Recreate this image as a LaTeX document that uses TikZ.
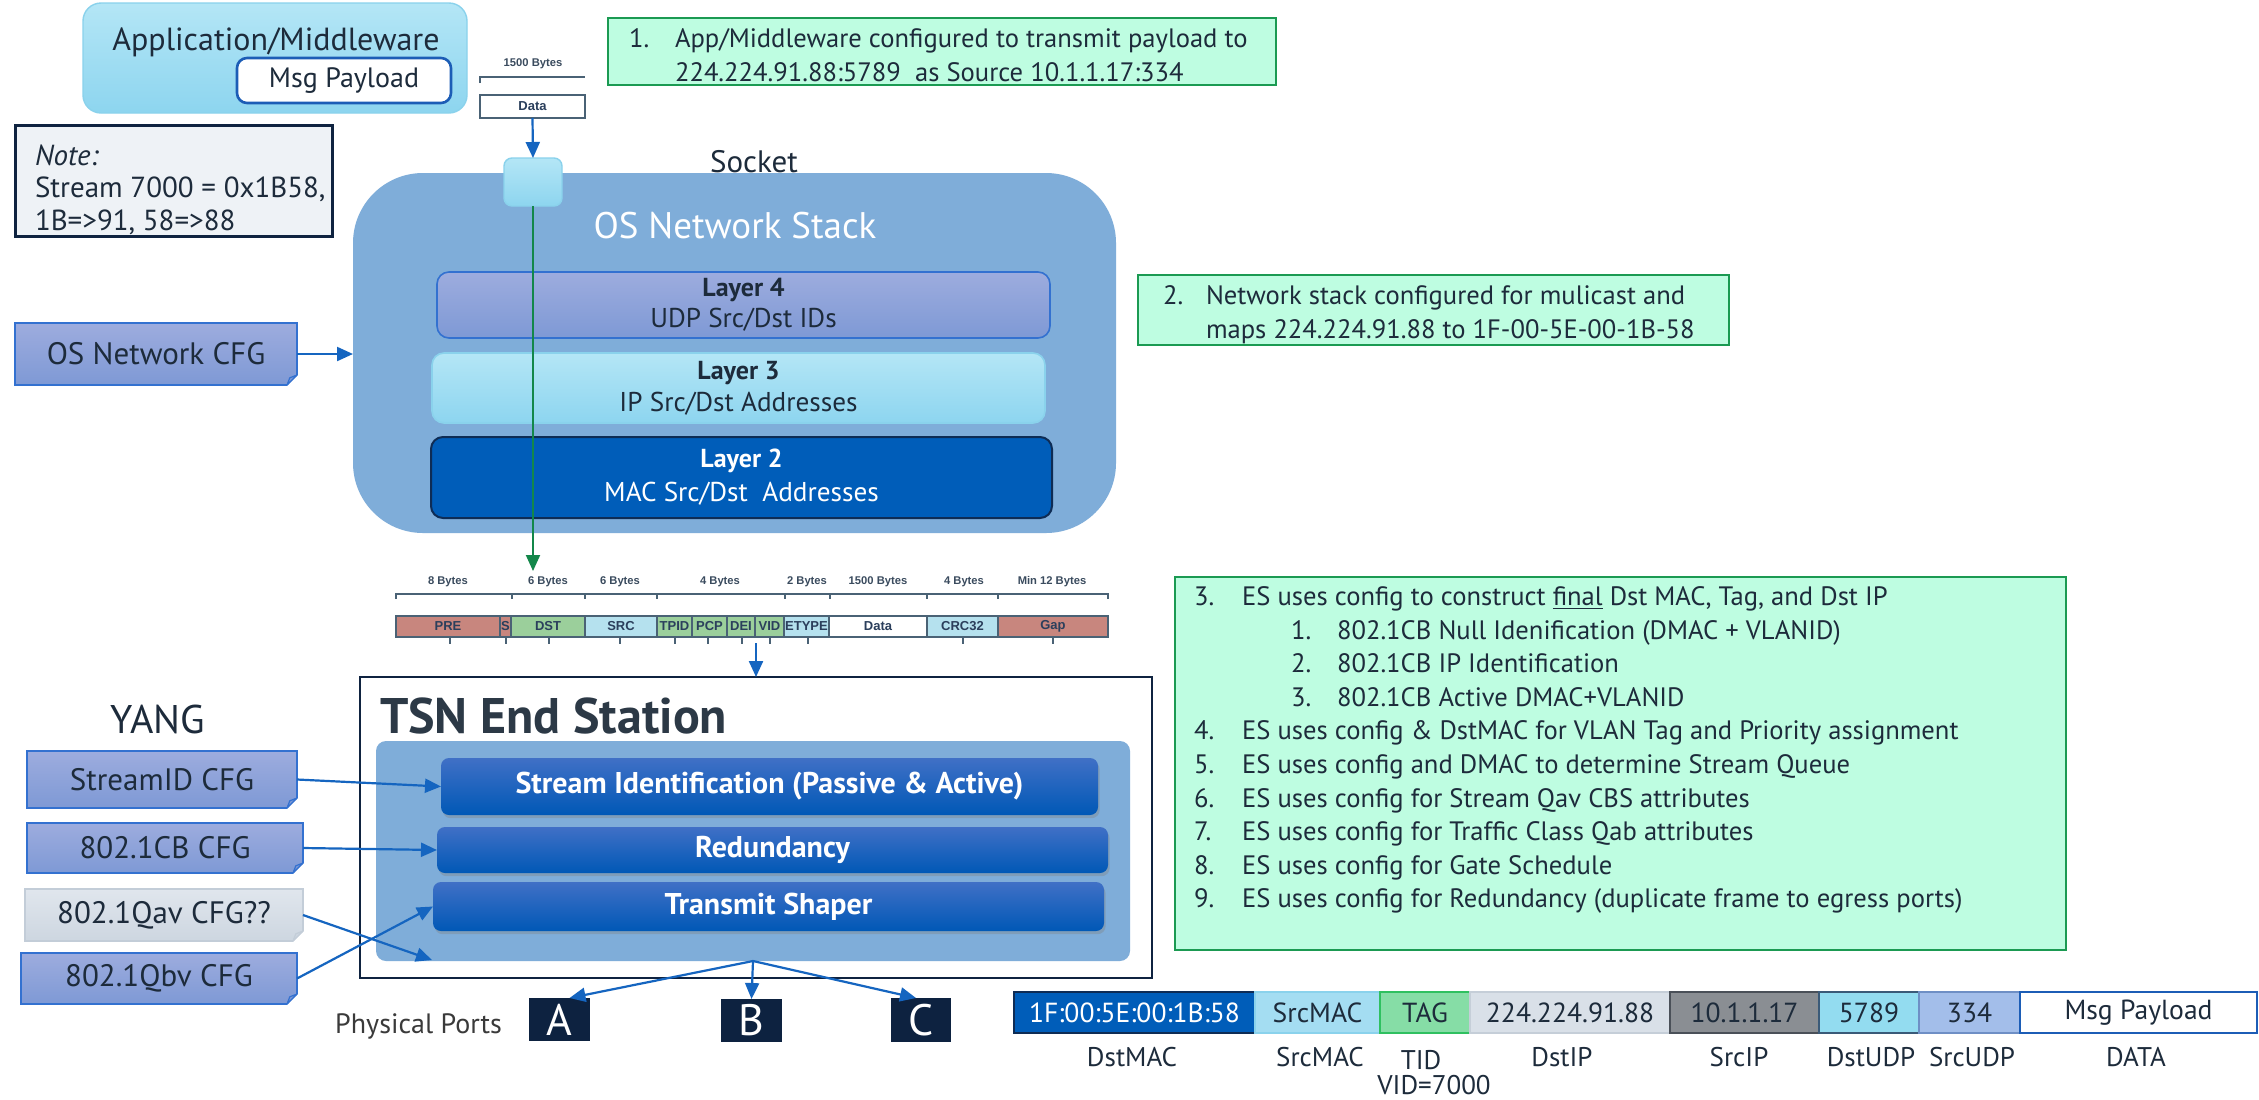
\documentclass[tikz,border=0pt]{standalone}
\usepackage{fontspec}
\setmainfont{PT Sans}
\newfontfamily\framefont{Liberation Sans}
\usetikzlibrary{arrows.meta,shadows}
\newcommand\fsz[1]{\fontsize{#1}{#1}\selectfont}

\definecolor{txt}{HTML}{1D2B3B}
\definecolor{appT}{HTML}{B4E6F6}
\definecolor{appB}{HTML}{8DD5EF}
\definecolor{appL}{HTML}{8AD2EC}
\definecolor{msgB}{HTML}{1C5DB6}
\definecolor{frmT}{HTML}{3A4B5E}
\definecolor{frmB}{HTML}{4A6275}
\definecolor{fldT}{HTML}{2B3F5C}
\definecolor{noteF}{HTML}{EEF2F6}
\definecolor{noteB}{HTML}{0F2340}
\definecolor{stackF}{HTML}{7FADD9}
\definecolor{lfT}{HTML}{9DACDE}
\definecolor{lfB}{HTML}{7E99D5}
\definecolor{lfL}{HTML}{3371D0}
\definecolor{ltwoF}{HTML}{005DB9}
\definecolor{ltwoL}{HTML}{0E2C55}
\definecolor{gnF}{HTML}{BEFDE1}
\definecolor{gnL}{HTML}{1B9A52}
\definecolor{gln}{HTML}{13874A}
\definecolor{arrB}{HTML}{1565C0}
\definecolor{tsnT}{HTML}{2C3946}
\definecolor{blkT}{HTML}{4070C6}
\definecolor{blkB}{HTML}{0058B6}
\definecolor{portF}{HTML}{0D2240}
\definecolor{salm}{HTML}{C8867E}
\definecolor{grn}{HTML}{9BCF9B}
\definecolor{lblu}{HTML}{B5E1EE}
\definecolor{qavT}{HTML}{E0E6ED}
\definecolor{qavB}{HTML}{CDD6E0}
\definecolor{qavL}{HTML}{C3CDD8}
\definecolor{grayT}{HTML}{3A3A3A}

\tikzset{
  pxbox/.style args={#1/#2/#3/#4}{at={({(#1+#3)/2},{(#2+#4)/2})},
    minimum width={(#3-#1)*0.5pt}, minimum height={(#4-#2)*0.5pt}},
  framelab/.style={font=\framefont\bfseries\fsz{5.6}, text=frmT},
  field/.style={draw=frmB, line width=0.6pt, font=\framefont\bfseries\fsz{6.5}, text=fldT},
  frmline/.style={draw=frmB, line width=0.6pt},
  barrow/.style={draw=arrB, line width=1.1pt, -{Triangle[length=8pt,width=7pt]}},
  garrow/.style={draw=gln, line width=1pt, -{Triangle[length=8pt,width=7pt]}},
  greennote/.style={fill=gnF, draw=gnL, line width=1pt},
  notetext/.style={anchor=base west, font=\fsz{13.3}, text=txt},
  layer/.style={rounded corners=6pt, align=center, font=\fsz{13.6}, text=txt},
  cfgbox/.style={top color=lfT, bottom color=lfB, draw=lfL, line width=0.8pt, font=\fsz{15.5}, text=txt},
  blk/.style={rounded corners=4pt, top color=blkT, bottom color=blkB,
    drop shadow={shadow xshift=0.8pt, shadow yshift=-1.6pt, opacity=0.35},
    text=white, font=\bfseries\fsz{15}},
  port/.style={fill=portF, text=white, font=\fsz{22}},
  barfield/.style={line width=0.8pt, font=\fsz{13.8}, text=txt},
  barlab/.style={anchor=base, font=\fsz{13.5}, text=txt},
}

% folded corner at the lower right of a configuration note
\newcommand\dogear[3]{%
  \fill[white] ([xshift=-5.5pt,yshift=-1pt]#1.south east) -- ([xshift=1pt,yshift=-1pt]#1.south east)
     -- ([xshift=1pt,yshift=5.5pt]#1.south east) -- cycle;
  \filldraw[fill=#2, draw=#3, line width=0.6pt, line join=round]
     ([xshift=-5pt]#1.south east) -- ([yshift=5pt]#1.south east)
     -- ([xshift=-3.6pt,yshift=3.6pt]#1.south east) -- cycle;}

\begin{document}
\begin{tikzpicture}[x=0.5pt, y=-0.5pt, every node/.style={inner sep=0pt, outer sep=0pt}]
\fill[white] (0,0) rectangle (2259,1099);
\useasboundingbox (0,0) rectangle (2259,1099);

% ---------- application ----------
\node (app) [pxbox=83/3/467/113, rounded corners=9pt, top color=appT, bottom color=appB, draw=appL, line width=0.7pt] {};
\node (apptitle) [anchor=base, font=\fsz{16}, text=txt] at (276,50) {Application/Middleware};
\node (msg) [pxbox=237/58/451/103, rounded corners=5pt, fill=white, draw=msgB, line width=1.3pt, font=\fsz{14}, text=txt] {Msg Payload};

% payload as handed to the socket
\node (paylab) [framelab, anchor=base] at (533,66) {1500 Bytes};
\draw[frmline] (480,83) -- (480,77) -- (585,77);
\node (pay) [pxbox=480/95/585/118, field, fill=white] {Data};

% ---------- note ----------
\node (note) [pxbox=15/125/332/236, fill=noteF, draw=noteB, line width=1.5pt] {};
\node (note1) [anchor=base west, font=\itshape\fsz{14.5}, text=txt] at (35,165) {Note:};
\node (note2) [anchor=base west, font=\fsz{14.5}, text=txt] at (35,197) {Stream 7000 = 0x1B58,};
\node (note3) [anchor=base west, font=\fsz{14.5}, text=txt] at (35,230) {1B=>91, 58=>88};

% ---------- OS network stack ----------
\node (stack) [pxbox=353/173/1116/533, rounded corners=35pt, fill=stackF] {};
\node (sockettxt) [anchor=base, font=\fsz{15.5}, text=txt] at (754,172) {Socket};
\node (stacktitle) [anchor=base, font=\fsz{18.5}, text=white] at (735,238) {OS Network Stack};
\node (lfour) [layer, pxbox=437/272/1050/338, top color=lfT, bottom color=lfB, draw=lfL, line width=0.8pt]
  {{\bfseries\fsz{13}Layer 4}\\[2pt]UDP Src/Dst IDs};
\node (lthree) [layer, pxbox=432/353/1045/423, top color=appT, bottom color=appB, draw=appL, line width=0.8pt]
  {{\bfseries\fsz{13}Layer 3}\\[2.5pt]IP Src/Dst Addresses};
\node (ltwo) [layer, pxbox=431/437/1052/518, fill=ltwoF, draw=ltwoL, line width=1pt, text=white]
  {{\bfseries\fsz{13}Layer 2}\\[3.5pt]MAC Src/Dst\ \ Addresses};
\node (socket) [pxbox=504/158/562/206, rounded corners=4pt, top color=appT, bottom color=appB, draw=appL, line width=0.7pt] {};
\draw[barrow] (pay.south) -- (socket.north);

\node (oscfg) [cfgbox, pxbox=15/323/297/385] {OS Network CFG};
\dogear{oscfg}{lfB}{lfL}
\draw[barrow] (oscfg.east) -- (oscfg.east -| stack.west);

% ---------- numbered remarks ----------
\node (rem1) [greennote, pxbox=608/18/1276/85] {};
\node [notetext] at (629,47) {1.};
\node [notetext] at (675,47) {App/Middleware configured to transmit payload to};
\node [notetext] at (675,81) {224.224.91.88:5789\ \ as Source 10.1.1.17:334};

\node (rem2) [greennote, pxbox=1138/275/1729/345] {};
\node [notetext] at (1163,304) {2.};
\node [notetext] at (1206,304) {Network stack configured for mulicast and};
\node [notetext] at (1206,338) {maps 224.224.91.88\ to 1F-00-5E-00-1B-58};

\node (rem3) [greennote, pxbox=1175/577/2066/950] {};
\foreach \yy/\nx/\nn/\tx/\tt in {
  605/1194/3./1242/{ES uses config to construct \underline{final} Dst MAC, Tag, and Dst IP},
  639/1291/1./1337/{802.1CB Null Idenification (DMAC + VLANID)},
  672/1291/2./1337/{802.1CB IP Identification},
  706/1291/3./1337/{802.1CB Active DMAC+VLANID},
  739/1194/4./1242/{ES uses config \& DstMAC for VLAN Tag and Priority assignment},
  773/1194/5./1242/{ES uses config and DMAC to determine Stream Queue},
  807/1194/6./1242/{ES uses config for Stream Qav CBS attributes},
  840/1194/7./1242/{ES uses config for Traffic Class Qab attributes},
  874/1194/8./1242/{ES uses config for Gate Schedule},
  907/1194/9./1242/{ES uses config for Redundancy (duplicate frame to egress ports)}}{
  \node [notetext] at (\nx,\yy) {\nn};
  \node [notetext] at (\tx,\yy) {\tt};
}

% ---------- Ethernet frame layout ----------
\foreach \xx/\tt in {448/8 Bytes, 548/6 Bytes, 620/6 Bytes, 720/4 Bytes, 807/2 Bytes, 878/1500 Bytes, 964/4 Bytes, 1052/Min 12 Bytes}
  \node [framelab, anchor=base] at (\xx,584) {\tt};
\draw[frmline] (396,599) -- (396,594) -- (1108,594) -- (1108,599);
\foreach \xx in {512,585,657,785,830,927,998}
  \draw[frmline] (\xx,594) -- (\xx,599);
\foreach \nm/\a/\b/\cc/\tt in {pre/396/500/salm/PRE, s/500/511/salm/S, dst/511/585/grn/DST, src/585/657/lblu/SRC,
    tpid/657/692/grn/TPID, pcp/692/727/grn/PCP, dei/727/755/grn/DEI, vid/755/784/grn/VID,
    etype/784/829/lblu/ETYPE, data/829/927/white/Data, crc/927/998/lblu/CRC32, gap/998/1108/salm/Gap}
  \node (f\nm) [field, fill=\cc, pxbox=\a/616/\b/637] {\tt};
\foreach \xx in {450,506,549,620,675,708,742,770,808,963,1053}
  \draw[frmline] (\xx,637) -- (\xx,644);

\coordinate (frametop) at (533,571);
\draw[garrow] (socket.south) -- (frametop);

% ---------- TSN end station ----------
\node (tsn) [pxbox=360/677/1152/978, draw=noteB, line width=1.2pt, fill=white] {};
\coordinate (fout) at (756,643);
\draw[barrow] (fout) -- (fout |- tsn.north);
\node (tsntitle) [anchor=base west, font=\bfseries\fsz{25}, text=tsnT] at (380,733) {TSN End Station};
\node (es) [pxbox=376/741/1130/961, rounded corners=5pt, fill=stackF] {};
\node (sid) [blk, pxbox=441/758/1098/815] {Stream Identification (Passive \& Active)};
\node (red) [blk, pxbox=437/827/1108/873] {Redundancy};
\node (tx)  [blk, pxbox=433/882/1104/931] {Transmit Shaper};

% ---------- YANG configuration ----------
\node (yang) [anchor=base, font=\fsz{20}, text=txt] at (158,733) {YANG};
\node (sidcfg) [cfgbox, pxbox=27/751/297/808] {StreamID CFG};
\dogear{sidcfg}{lfB}{lfL}
\node (cbcfg) [cfgbox, pxbox=27/823/303/873] {802.1CB CFG};
\dogear{cbcfg}{lfB}{lfL}
\node (qavcfg) [cfgbox, pxbox=25/889/303/941, top color=qavT, bottom color=qavB, draw=qavL] {802.1Qav CFG??};
\dogear{qavcfg}{qavB}{qavL}
\node (qbvcfg) [cfgbox, pxbox=21/953/297/1004] {802.1Qbv CFG};
\dogear{qbvcfg}{lfB}{lfL}

\coordinate (qavend) at (432,960);
\draw[barrow] (sidcfg.east) -- (sid.west);
\draw[barrow] (cbcfg.east) -- (red.west);
\draw[barrow] (qavcfg.east) -- (qavend);
\draw[barrow] (qbvcfg.east) -- (tx.west);

% ---------- physical ports ----------
\node (pA) [port, pxbox=529/998/590/1041] {A};
\node (pB) [port, pxbox=721/999/782/1042] {B};
\node (pC) [port, pxbox=891/998/951/1042] {C};
\node (ports) [anchor=base east, font=\fsz{14}, text=grayT] at (502,1033) {Physical Ports};
\coordinate (fan) at (753,961);
\draw[barrow] (fan) -- ([xshift=5pt]pA.north);
\draw[barrow] (fan) -- (pB.north);
\draw[barrow] (fan) -- ([xshift=-2.5pt]pC.north);

% ---------- resulting frame contents ----------
\node (bdmac) [barfield, pxbox=1014/992/1255/1033, fill=ltwoF, draw=ltwoL, text=white] {1F:00:5E:00:1B:58};
\node (bsmac) [barfield, pxbox=1255/992/1380/1033, fill=appB!80!white, draw=appL] {SrcMAC};
\node (btag)  [barfield, pxbox=1380/992/1470/1033, fill={rgb,255:red,134;green,221;blue,166}, draw={rgb,255:red,47;green,192;blue,96}] {TAG};
\node (bdip)  [barfield, pxbox=1470/992/1670/1033, fill={rgb,255:red,217;green,224;blue,232}, draw={rgb,255:red,197;green,206;blue,216}] {224.224.91.88};
\node (bsip)  [barfield, pxbox=1670/992/1819/1033, fill={rgb,255:red,138;green,142;blue,147}, draw={rgb,255:red,74;green,80;blue,88}] {10.1.1.17};
\node (bdudp) [barfield, pxbox=1819/992/1919/1033, fill={rgb,255:red,147;green,220;blue,240}, draw={rgb,255:red,58;green,90;blue,120}] {5789};
\node (bsudp) [barfield, pxbox=1919/992/2020/1033, fill={rgb,255:red,163;green,190;blue,234}, draw={rgb,255:red,110;green,143;blue,197}] {334};
\node (bpay)  [barfield, pxbox=2020/992/2257/1033, fill=white, draw=msgB, line width=1.3pt] {Msg Payload};

\node [barlab] at (1132,1066) {DstMAC};
\node [barlab] at (1320,1066) {SrcMAC};
\node [barlab] at (1421,1069) {TID};
\node [barlab] at (1434,1094) {VID=7000};
\node [barlab] at (1562,1066) {DstIP};
\node [barlab] at (1739,1066) {SrcIP};
\node [barlab] at (1871,1066) {DstUDP};
\node [barlab] at (1972,1066) {SrcUDP};
\node [barlab] at (2136,1066) {DATA};
\end{tikzpicture}
\end{document}
